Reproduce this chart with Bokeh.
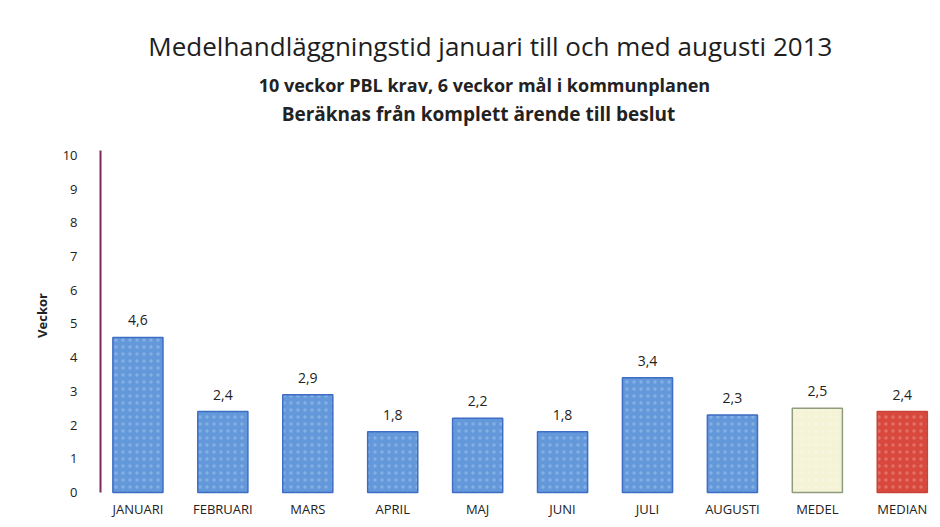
import math
from bokeh.plotting import figure
from bokeh.models import ColumnDataSource, Range1d, FixedTicker, LabelSet, Label
from bokeh.core.properties import value
from bokeh.embed import file_html
from bokeh.resources import INLINE

# Handläggningstid per månad (veckor), plus medel och median
manader = ["JANUARI", "FEBRUARI", "MARS", "APRIL", "MAJ", "JUNI",
           "JULI", "AUGUSTI", "MEDEL", "MEDIAN"]
veckor = [4.6, 2.4, 2.9, 1.8, 2.2, 1.8, 3.4, 2.3, 2.5, 2.4]
y_ticks = [0, 1, 2, 3, 4, 5, 6, 7, 8, 9, 10]

titel = "Medelhandläggningstid januari till och med augusti 2013"
undertitel_1 = "10 veckor PBL krav, 6 veckor mål i kommunplanen"
undertitel_2 = "Beräknas från komplett ärende till beslut"
y_rubrik = "Veckor"

fyllning = ["#6399da"] * 8 + ["#f4f3d6", "#d9483c"]
kant = ["#3f6cc4"] * 8 + ["#8f9c80", "#c8443a"]

FONT = "Open Sans"
X_AXEL = -0.44        # y-axelns läge i x-led
Y_AXEL_TOPP = 10.15   # där y-axelns linje slutar
Y_RUTA_BOTTEN = -0.3  # lite luft under noll så att skalans nolla syns helt
Y_RUTA_TOPP = 14.6    # ritytan räcker upp till kanten, rubrikerna ligger ovanför axeln

idx = list(range(len(manader)))
src = ColumnDataSource(dict(
    x=idx,
    y=veckor,
    etikett=[f"{v:.1f}".replace(".", ",") for v in veckor],
    fill=fyllning,
    line=kant,
))

p = figure(width=940, height=527, output_backend="svg", toolbar_location=None,
           x_range=Range1d(-1.618, len(manader) - 0.55),
           y_range=Range1d(Y_RUTA_BOTTEN, Y_RUTA_TOPP),
           min_border_left=0, min_border_right=0, min_border_bottom=25,
           min_border_top=0, title=None)

p.vbar(x="x", top="y", bottom=0, width=0.59, source=src, fill_color="fill",
       line_color="line", line_width=1.5,
       hatch_pattern="dot", hatch_color="white", hatch_alpha=0.22, hatch_scale=7)

labels = LabelSet(x="x", y="y", text="etikett", source=src, text_align="center",
                  text_baseline="bottom", y_offset=12, text_font=value(FONT),
                  text_font_size=value("14px"), text_color=value("#222222"))
p.add_layout(labels)

# Rubrik och underrubriker
for text, x, y, size, style, color in [
    (titel, 4.15, 13.26, "26px", "normal", "#1e1e1e"),
    (undertitel_1, 4.08, 12.08, "18px", "bold", "#222222"),
    (undertitel_2, 4.01, 11.22, "19px", "bold", "#222222"),
]:
    p.add_layout(Label(x=x, y=y, text=text, text_align="center",
                       text_baseline="middle", text_font=FONT,
                       text_font_size=size, text_font_style=style,
                       text_color=color))

# Y-axelns rubrik, lodrätt till vänster om skalan
p.add_layout(Label(x=-1.13, y=5.25, text=y_rubrik, angle=math.pi / 2,
                   text_align="center", text_baseline="middle",
                   text_font=FONT, text_font_size="13px",
                   text_font_style="bold", text_color="#222222"))

p.xaxis.ticker = FixedTicker(ticks=idx)
p.xaxis.major_label_overrides = {i: m for i, m in enumerate(manader)}
p.xaxis.axis_line_color = None
p.xaxis.major_tick_line_color = None
p.xaxis.minor_tick_line_color = None
p.xaxis.major_label_standoff = -9
p.xaxis.major_label_text_font = FONT
p.xaxis.major_label_text_font_size = "13px"
p.xaxis.major_label_text_color = "#222222"

p.yaxis.fixed_location = X_AXEL
p.yaxis.ticker = FixedTicker(ticks=y_ticks)
p.yaxis.bounds = (0, Y_AXEL_TOPP)
p.yaxis.axis_line_color = "#7a2a5a"
p.yaxis.axis_line_width = 2
p.yaxis.major_tick_line_color = None
p.yaxis.minor_tick_line_color = None
p.yaxis.major_label_standoff = 17
p.yaxis.major_label_text_font = FONT
p.yaxis.major_label_text_font_size = "13px"
p.yaxis.major_label_text_color = "#222222"

p.xgrid.grid_line_color = None
p.ygrid.grid_line_color = None
p.outline_line_color = None

open("out.html", "w").write(file_html(p, INLINE))
